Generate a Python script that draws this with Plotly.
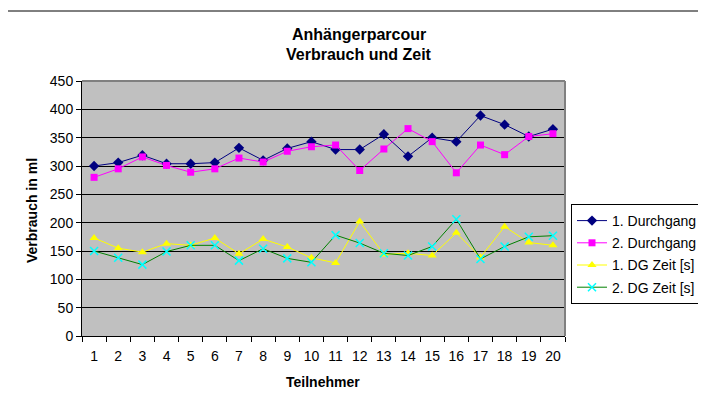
import plotly.graph_objects as go

teilnehmer = [str(i) for i in range(1, 21)]
durchgang1 = [300, 306, 319, 304, 304, 306, 332, 310, 331, 343, 329, 329, 356, 317, 350, 343, 389, 373, 352, 365]
durchgang2 = [280, 295, 316, 301, 289, 295, 314, 307, 326, 334, 337, 292, 330, 366, 343, 288, 337, 320, 352, 357]
dg1_zeit = [173, 155, 148, 163, 160, 173, 145, 171, 157, 138, 129, 202, 144, 146, 142, 182, 139, 193, 165, 160]
dg2_zeit = [150, 138, 126, 149, 160, 160, 133, 154, 137, 130, 178, 164, 146, 142, 158, 206, 136, 158, 175, 177]

FONT = "Arial, 'Liberation Sans', sans-serif"

fig = go.Figure()
fig.add_trace(go.Scatter(x=teilnehmer, y=durchgang1, name="1. Durchgang", mode="lines+markers",
                         legendgroup="a",
                         line=dict(color="#000080", width=1),
                         marker=dict(symbol="diamond", size=8, color="#000080")))
fig.add_trace(go.Scatter(x=teilnehmer, y=durchgang2, name="2. Durchgang", mode="lines+markers",
                         legendgroup="b",
                         line=dict(color="#FF00FF", width=1),
                         marker=dict(symbol="square", size=7, color="#FF00FF")))
fig.add_trace(go.Scatter(x=teilnehmer, y=dg1_zeit, name="1. DG Zeit [s]", mode="lines+markers",
                         legendgroup="c",
                         line=dict(color="#FFFF00", width=1),
                         marker=dict(symbol="triangle-up", size=8, color="#FFFF00")))
fig.add_trace(go.Scatter(x=teilnehmer, y=dg2_zeit, name="2. DG Zeit [s]", mode="lines+markers",
                         legendgroup="d",
                         line=dict(color="#008000", width=1),
                         marker=dict(symbol="x-thin", size=8, color="#00FFFF",
                                     line=dict(color="#00FFFF", width=1.5))))

# page body adds an 8px offset; work in reference pixel coords and subtract it
OFF = 8
W, H = 706 - OFF, 402 - OFF
L, R, T, B = 82 - OFF, 565 - OFF, 81 - OFF, 336 - OFF
pw, ph = R - L, B - T

def px(x):
    return (x - OFF - L) / pw

def py(y):
    return (B - (y - OFF)) / ph

fig.update_layout(
    width=W, height=H, autosize=False,
    margin=dict(l=L, r=W - R, t=T, b=H - B, pad=0),
    paper_bgcolor="white", plot_bgcolor="#C0C0C0",
    font=dict(family=FONT, size=14, color="black"),
    showlegend=True,
    legend=dict(xref="container", yref="container",
                x=(571 - OFF) / W, xanchor="left", y=1 - (204 - OFF) / H, yanchor="top",
                bordercolor="black", borderwidth=1, bgcolor="white",
                font=dict(family=FONT, size=14, color="black"),
                tracegroupgap=1, itemwidth=30),
    xaxis=dict(type="category", range=[-0.5, len(teilnehmer) - 0.5], autorange=False,
               tickson="boundaries", ticks="outside", ticklen=5,
               tickcolor="black", showline=True, linecolor="black", linewidth=1,
               showgrid=False, tickfont=dict(size=14), tickangle=0, zeroline=False,
               ticklabelstandoff=7, automargin=False),
    yaxis=dict(range=[0, 450], dtick=50, ticks="outside", ticklen=5, tickcolor="black",
               showline=True, linecolor="black", linewidth=1, showgrid=True,
               gridcolor="black", gridwidth=1, tickfont=dict(size=14), zeroline=False,
               automargin=False),
    shapes=[
        dict(type="rect", xref="paper", yref="paper", x0=px(5), x1=px(702), y0=py(412), y1=py(11),
             line=dict(color="black", width=1), layer="below"),
        dict(type="line", xref="paper", yref="paper", x0=0, x1=1, y0=1, y1=1,
             line=dict(color="#808080", width=2)),
        dict(type="line", xref="paper", yref="paper", x0=1, x1=1, y0=0, y1=1,
             line=dict(color="#808080", width=2)),
    ],
    annotations=[
        dict(text="<b>Anhängerparcour</b>", xref="paper", yref="paper", x=px(359), y=py(34),
             xanchor="center", yanchor="middle", showarrow=False, font=dict(size=16)),
        dict(text="<b>Verbrauch und Zeit</b>", xref="paper", yref="paper", x=px(359), y=py(55),
             xanchor="center", yanchor="middle", showarrow=False, font=dict(size=16)),
        dict(text="<b>Verbrauch in ml</b>", xref="paper", yref="paper", x=px(32), y=py(211),
             xanchor="center", yanchor="middle", showarrow=False, textangle=-90, font=dict(size=14)),
        dict(text="<b>Teilnehmer</b>", xref="paper", yref="paper", x=px(323), y=py(382),
             xanchor="center", yanchor="middle", showarrow=False, font=dict(size=14)),
    ],
)

fig.write_html("out.html")
